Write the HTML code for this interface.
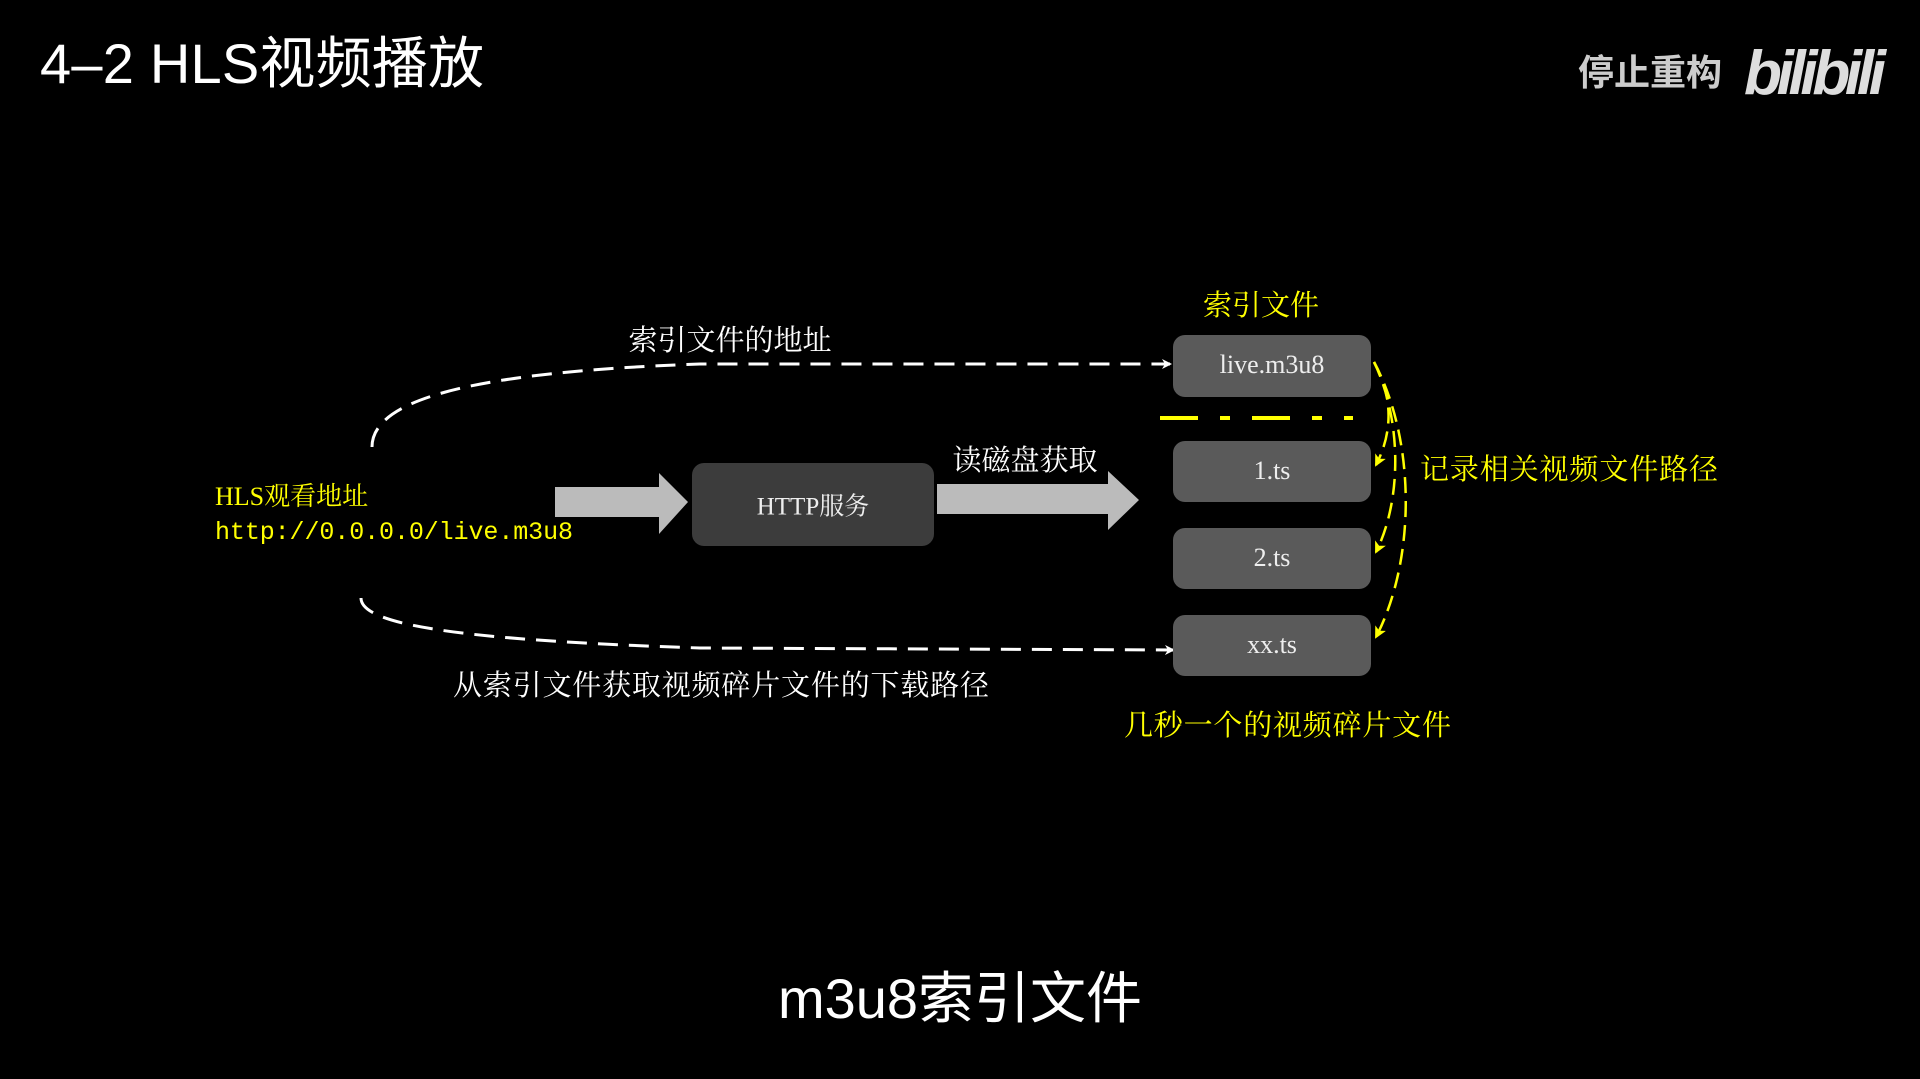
<!DOCTYPE html>
<html><head><meta charset="utf-8"><style>
html,body{margin:0;padding:0;background:#000;}
body{width:1920px;height:1079px;overflow:hidden;position:relative;}
svg{position:absolute;left:0;top:0;}
</style></head><body>
<svg width="1920" height="1079" viewBox="0 0 1920 1079" xmlns="http://www.w3.org/2000/svg">
<defs>
<marker id="wa" markerWidth="10" markerHeight="10" refX="8" refY="5" orient="auto" markerUnits="userSpaceOnUse"><path d="M0,0 L10,5 L0,10 L3,5 z" fill="#fff"/></marker>
<marker id="ya" markerWidth="12" markerHeight="12" refX="10" refY="6" orient="auto" markerUnits="userSpaceOnUse"><path d="M0,0 L12,6 L0,12 L3,6 z" fill="#ff0"/></marker>
</defs>
<text x="40" y="83" font-family="Liberation Sans, Noto Sans CJK SC, sans-serif" font-size="56" fill="#fff" textLength="444">4–2 HLS视频播放</text>
<text x="1578" y="85" font-family="Liberation Sans, Noto Sans CJK SC, sans-serif" font-size="36" fill="#ccc" font-weight="bold">停止重构</text>
<text x="1744" y="94" font-family="Liberation Sans, sans-serif" font-size="62" fill="#ddd" font-weight="bold" font-style="italic" textLength="142">bilibili</text>

<path d="M372,447 C372,400 470,372 700,364 L1170,364" fill="none" stroke="#fff" stroke-width="3" stroke-dasharray="20,11" marker-end="url(#wa)"/>
<path d="M361,598 C361,625 460,640 700,648 L1173,650" fill="none" stroke="#fff" stroke-width="3" stroke-dasharray="20,11" marker-end="url(#wa)"/>

<polygon points="555,487 659,487 659,473 688,502 659,534 659,517 555,517" fill="#bbb"/>
<polygon points="937,484 1108,484 1108,471 1139,500 1108,530 1108,514 937,514" fill="#bbb"/>

<rect x="692" y="463" width="242" height="83" rx="12" fill="#3c3c3c"/>
<text x="813" y="509" text-anchor="middle" dominant-baseline="middle" font-family="Liberation Serif, Noto Serif CJK SC, serif" font-size="25" fill="#eee">HTTP服务</text>

<g font-family="Liberation Serif, Noto Serif CJK SC, serif" font-size="26" fill="#eee" text-anchor="middle">
<rect x="1173" y="335" width="198" height="62" rx="12" fill="#5a5a5a"/>
<text x="1272" y="373">live.m3u8</text>
<rect x="1173" y="441" width="198" height="61" rx="12" fill="#5a5a5a"/>
<text x="1272" y="479">1.ts</text>
<rect x="1173" y="528" width="198" height="61" rx="12" fill="#5a5a5a"/>
<text x="1272" y="566">2.ts</text>
<rect x="1173" y="615" width="198" height="61" rx="12" fill="#5a5a5a"/>
<text x="1272" y="653">xx.ts</text>
</g>

<line x1="1160" y1="418" x2="1353" y2="418" stroke="#ff0" stroke-width="4" stroke-dasharray="38,22,10,22"/>
<path d="M1374,362 C1392,395 1394,430 1376,465" fill="none" stroke="#ff0" stroke-width="2.5" stroke-dasharray="16,8" marker-end="url(#ya)"/>
<path d="M1374,362 C1402,420 1402,500 1376,552" fill="none" stroke="#ff0" stroke-width="2.5" stroke-dasharray="16,8" marker-end="url(#ya)"/>
<path d="M1374,362 C1416,440 1416,560 1376,637" fill="none" stroke="#ff0" stroke-width="2.5" stroke-dasharray="16,8" marker-end="url(#ya)"/>

<g font-family="Liberation Serif, Noto Serif CJK SC, serif" font-size="29" fill="#ff0">
<text x="1261" y="315" text-anchor="middle" font-size="29">索引文件</text>
<text x="1420" y="479" textLength="298">记录相关视频文件路径</text>
<text x="1124" y="735" textLength="327">几秒一个的视频碎片文件</text>
<text x="215" y="505" font-size="26">HLS观看地址</text>
<text x="215" y="539" font-family="Liberation Mono, monospace" font-size="25" textLength="358">http://0.0.0.0/live.m3u8</text>
</g>
<g font-family="Liberation Serif, Noto Serif CJK SC, serif" font-size="29" fill="#fff">
<text x="730" y="350" text-anchor="middle">索引文件的地址</text>
<text x="1025" y="470" text-anchor="middle">读磁盘获取</text>
<text x="453" y="695" textLength="536">从索引文件获取视频碎片文件的下载路径</text>
</g>
<text x="960" y="1018" text-anchor="middle" font-family="Liberation Sans, Noto Sans CJK SC, sans-serif" font-size="56" fill="#fff">m3u8索引文件</text>
</svg>
</body></html>
